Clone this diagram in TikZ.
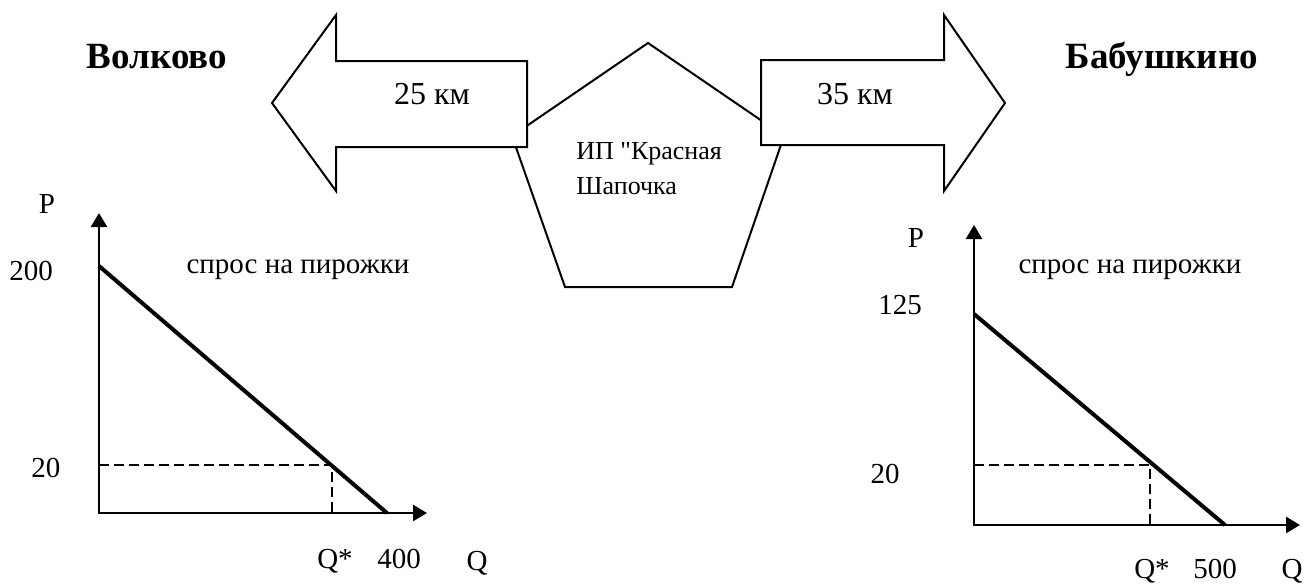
\documentclass[tikz,border=0pt]{standalone}
\usepackage{fontspec}
\setmainfont{Liberation Serif}[Ligatures=TeXOff]
\usetikzlibrary{arrows.meta}
\tikzset{
  outline/.style={draw,line width=1pt,fill=white,line join=miter},
  axisline/.style={line width=1.3pt,{Triangle[length=7pt,width=8pt]}-{Triangle[length=7pt,width=8pt]}},
  demand/.style={line width=2pt},
  dashline/.style={line width=0.8pt,dash pattern=on 5pt off 2.5pt},
  lbl/.style={font=\fontsize{14.5}{17}\selectfont,anchor=base,inner sep=0pt},
}
\begin{document}
\begin{tikzpicture}[x=0.5pt,y=-0.5pt]
\clip(0,0) rectangle (1304,584);
% firm and roads
\draw[line width=1pt](648,43)--(784,136)--(732,287)--(565,287)--(512,136)--cycle;
\draw[outline](272,103)--(336,15)--(336,61)--(527,61)--(527,147)--(336,147)--(336,191)--cycle;
\draw[outline](761,60)--(944,60)--(944,15)--(1005,103)--(944,191)--(944,145)--(761,145)--cycle;
\node[anchor=base,inner sep=0pt,font=\fontsize{16}{19}\selectfont](kmL) at (432,104){25 км};
\node[anchor=base,inner sep=0pt,font=\fontsize{16}{19}\selectfont](kmR) at (855,104){35 км};
\node[anchor=base west,inner sep=0pt,font=\fontsize{13}{15}\selectfont](firm1) at (576,159){ИП "Красная};
\node[anchor=base west,inner sep=0pt,font=\fontsize{13}{15}\selectfont](firm2) at (576,194){Шапочка};
\node[anchor=base,inner sep=0pt,font=\fontsize{18.5}{22}\selectfont\bfseries](townL) at (157,68){Волково};
\node[anchor=base,inner sep=0pt,font=\fontsize{18.5}{22}\selectfont\bfseries](townR) at (1162,68){Бабушкино};
% left market
\coordinate(OL) at (99,513);
\draw[axisline](99,213)--(OL)--(427,513);
\draw[demand](99,266)--(387,513);
\draw[dashline](99,465)--(332,465)--(332,513);
\node[lbl](PL) at (47,213){P};
\node[lbl](pmaxL) at (31,280){200};
\node[lbl](pL) at (46,477){20};
\node[lbl](dL) at (298,273){спрос на пирожки};
\node[lbl](qL) at (335,568){Q*};
\node[lbl](qmaxL) at (399,568){400};
\node[lbl](QL) at (477,570){Q};
% right market
\coordinate(OR) at (974,525);
\draw[axisline](974,225)--(OR)--(1300,525);
\draw[demand](974,314)--(1225,525);
\draw[dashline](974,465)--(1150,465)--(1150,525);
\node[lbl](PR) at (916,247){P};
\node[lbl](pmaxR) at (900,314){125};
\node[lbl](pR) at (885,483){20};
\node[lbl](dR) at (1130,273){спрос на пирожки};
\node[lbl](qR) at (1152,578){Q*};
\node[lbl](qmaxR) at (1215,578){500};
\node[lbl](QR) at (1292,578){Q};
\end{tikzpicture}
\end{document}
